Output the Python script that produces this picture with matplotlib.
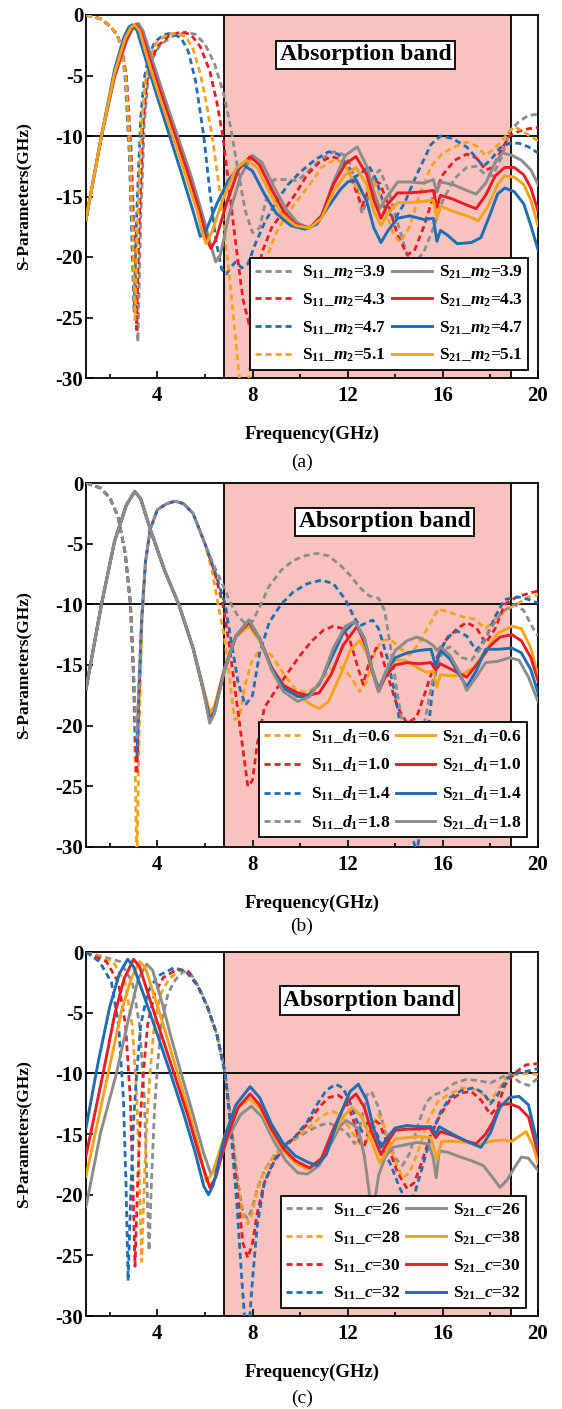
import matplotlib
matplotlib.use('Agg')
import matplotlib.pyplot as plt
from matplotlib.ticker import FixedLocator

plt.rcParams['font.family'] = ['Liberation Serif', 'DejaVu Serif']
plt.rcParams['font.weight'] = 'bold'
plt.rcParams['axes.unicode_minus'] = False
plt.rcParams['mathtext.fontset'] = 'custom'
plt.rcParams['mathtext.rm'] = 'Liberation Serif:bold'
plt.rcParams['mathtext.it'] = 'Liberation Serif:italic:bold'
plt.rcParams['mathtext.bf'] = 'Liberation Serif:bold'

# ---------------- shared settings ----------------
band_start, band_end = 6.82, 18.86
x_major = [4, 8, 12, 16, 20]
x_minor = [2, 6, 10, 14, 18]
y_major = [0, -5, -10, -15, -20, -25, -30]

# ================= panel (a): m2 =================
a_values = ['3.9', '4.3', '4.7', '5.1']

a_s11_39_f = [1.0, 1.6, 2.0, 2.3, 2.5, 2.7, 2.9, 3.05, 3.18, 3.3, 3.45, 3.6, 3.8, 4.1, 4.6, 5.2, 5.6, 6.0, 6.4, 6.8, 7.1, 7.4, 7.7, 8.0, 8.3, 8.6, 8.9, 9.4, 9.9, 10.4, 10.9, 11.4, 11.8, 12.1, 12.4, 12.6, 12.85, 13.1, 13.35, 13.7, 14.1, 14.5, 14.8, 15.2, 15.6, 16.0, 16.5, 17.0, 17.4, 17.8, 18.1, 18.5, 18.8, 19.2, 19.6, 20.0]
a_s11_39_db = [0.0, -0.3, -0.9, -1.6, -2.6, -5.0, -11.0, -19.0, -27.0, -17.0, -9.0, -5.5, -3.6, -2.5, -1.8, -1.4, -1.6, -2.4, -4.0, -6.6, -9.5, -13.0, -16.2, -18.0, -17.6, -15.0, -13.6, -13.6, -13.7, -12.8, -11.9, -11.3, -11.5, -12.3, -14.4, -16.4, -15.2, -13.3, -12.8, -14.4, -17.2, -19.8, -20.5, -19.6, -17.6, -15.3, -13.5, -12.6, -12.5, -13.2, -13.3, -11.6, -9.6, -8.8, -8.3, -8.2]

a_s11_43_f = [1.0, 1.6, 2.0, 2.3, 2.5, 2.7, 2.88, 3.0, 3.12, 3.24, 3.4, 3.55, 3.75, 4.0, 4.5, 5.0, 5.4, 5.8, 6.2, 6.5, 6.75, 7.0, 7.3, 7.6, 7.85, 8.1, 8.4, 8.8, 9.3, 9.8, 10.3, 10.8, 11.3, 11.7, 12.0, 12.3, 12.6, 12.85, 13.1, 13.35, 13.7, 14.1, 14.5, 14.8, 15.2, 15.6, 16.0, 16.5, 17.0, 17.4, 17.8, 18.1, 18.5, 18.8, 19.2, 19.6, 20.0]
a_s11_43_db = [0.0, -0.3, -0.9, -1.6, -2.7, -5.2, -11.5, -18.5, -26.0, -17.0, -9.0, -5.6, -3.7, -2.6, -1.7, -1.4, -1.6, -2.6, -4.6, -7.2, -10.0, -14.0, -19.0, -23.5, -25.5, -23.0, -19.6, -17.6, -16.2, -14.8, -13.2, -12.2, -11.7, -11.9, -12.7, -14.3, -15.8, -14.6, -13.7, -13.9, -15.6, -18.2, -19.8, -19.5, -17.5, -15.0, -13.2, -12.0, -11.5, -11.8, -12.8, -12.6, -11.0, -10.0, -9.6, -9.4, -9.3]

a_s11_47_f = [1.0, 1.6, 2.0, 2.3, 2.5, 2.65, 2.82, 2.92, 3.02, 3.14, 3.3, 3.45, 3.65, 3.9, 4.3, 4.6, 5.0, 5.3, 5.6, 5.95, 6.2, 6.45, 6.7, 6.9, 7.1, 7.3, 7.55, 7.8, 8.1, 8.5, 9.0, 9.5, 10.0, 10.6, 11.2, 11.6, 12.0, 12.3, 12.6, 12.9, 13.2, 13.6, 14.0, 14.4, 14.9, 15.5, 15.9, 16.4, 17.0, 17.4, 17.7, 18.0, 18.4, 18.8, 19.2, 19.6, 20.0]
a_s11_47_db = [0.0, -0.3, -0.9, -1.6, -2.7, -5.3, -11.5, -18.0, -24.5, -16.0, -8.5, -5.2, -3.3, -2.2, -1.6, -1.5, -1.9, -3.0, -5.4, -10.0, -14.5, -18.5, -21.0, -21.4, -20.8, -20.4, -20.9, -20.6, -19.0, -17.2, -15.4, -14.0, -13.0, -12.0, -11.3, -11.5, -12.4, -13.4, -13.0, -12.5, -13.6, -16.2, -16.8, -15.5, -13.2, -10.7, -10.0, -10.2, -10.9, -11.8, -12.5, -12.0, -11.0, -10.6, -10.6, -10.9, -11.4]

a_s11_51_f = [1.0, 1.6, 2.0, 2.3, 2.5, 2.68, 2.85, 2.96, 3.06, 3.18, 3.34, 3.5, 3.7, 3.95, 4.4, 4.8, 5.2, 5.5, 5.8, 6.05, 6.3, 6.55, 6.8, 7.05, 7.3, 7.5, 7.65, 7.8, 8.0, 8.3, 8.6, 9.0, 9.4, 9.9, 10.4, 10.9, 11.5, 11.9, 12.2, 12.5, 12.8, 13.1, 13.5, 13.9, 14.2, 14.6, 15.0, 15.5, 16.0, 16.5, 17.0, 17.4, 17.8, 18.2, 18.6, 19.0, 19.5, 20.0]
a_s11_51_db = [0.0, -0.3, -0.9, -1.6, -2.7, -5.3, -11.5, -18.0, -25.2, -16.5, -8.8, -5.4, -3.4, -2.3, -1.6, -1.5, -1.8, -2.8, -4.8, -7.2, -10.0, -13.5, -17.5, -22.0, -27.0, -31.0, -32.0, -31.0, -27.0, -23.0, -20.0, -18.0, -16.6, -15.3, -14.0, -12.6, -11.9, -12.4, -13.6, -14.8, -14.4, -13.8, -15.6, -18.0, -18.8, -17.5, -15.0, -12.5, -11.4, -10.9, -10.5, -10.8, -11.6, -11.0, -10.1, -9.2, -9.8, -10.4]

a_s21_39_f = [1.0, 1.65, 2.2, 2.7, 3.0, 3.2, 3.4, 3.8, 4.3, 4.85, 5.4, 5.9, 6.2, 6.45, 6.65, 7.0, 7.5, 8.0, 8.4, 8.9, 9.4, 9.9, 10.4, 10.9, 11.4, 11.9, 12.4, 12.8, 13.1, 13.35, 13.7, 14.1, 14.6, 15.2, 15.6, 15.75, 15.9, 16.4, 17.0, 17.4, 17.8, 18.2, 18.5, 18.9, 19.3, 19.7, 20.0]
a_s21_39_db = [-16.9, -10.0, -5.2, -2.2, -1.0, -0.7, -1.3, -3.8, -6.8, -10.0, -13.2, -16.5, -18.7, -20.4, -19.8, -16.6, -13.3, -11.6, -12.2, -14.2, -16.0, -17.2, -17.6, -16.6, -13.8, -11.6, -10.9, -12.5, -14.6, -16.0, -14.9, -13.8, -13.8, -13.9, -13.6, -14.6, -13.8, -14.0, -14.5, -14.8, -13.9, -12.2, -11.4, -11.6, -12.0, -12.8, -14.0]

a_s21_43_f = [1.0, 1.65, 2.2, 2.7, 2.95, 3.1, 3.3, 3.7, 4.2, 4.75, 5.3, 5.8, 6.1, 6.25, 6.45, 6.9, 7.4, 7.9, 8.3, 8.8, 9.3, 9.8, 10.4, 10.9, 11.4, 11.9, 12.35, 12.8, 13.1, 13.4, 13.7, 14.1, 14.6, 15.2, 15.6, 15.75, 15.9, 16.4, 17.0, 17.4, 17.8, 18.2, 18.6, 19.0, 19.4, 19.7, 20.0]
a_s21_43_db = [-16.9, -10.0, -5.0, -2.0, -1.0, -0.75, -1.3, -3.8, -6.8, -10.0, -13.2, -16.4, -18.6, -19.3, -18.6, -15.6, -12.8, -11.7, -12.4, -14.4, -16.2, -17.3, -17.6, -16.6, -14.0, -12.3, -11.7, -13.2, -15.3, -16.8, -15.6, -14.7, -14.7, -14.6, -14.5, -15.9, -14.9, -15.2, -15.7, -16.0, -14.9, -13.3, -12.6, -12.6, -13.2, -14.3, -16.2]

a_s21_47_f = [1.0, 1.65, 2.2, 2.6, 2.8, 2.95, 3.15, 3.5, 4.0, 4.5, 5.0, 5.5, 5.8, 6.05, 6.5, 7.0, 7.55, 8.0, 8.5, 9.0, 9.6, 10.2, 10.7, 11.2, 11.7, 12.0, 12.35, 12.8, 13.1, 13.4, 13.7, 14.1, 14.6, 15.2, 15.6, 15.75, 15.9, 16.2, 16.6, 17.2, 17.6, 18.0, 18.3, 18.6, 19.0, 19.4, 19.7, 20.0]
a_s21_47_db = [-16.9, -10.0, -4.5, -1.8, -1.0, -0.8, -1.3, -3.6, -6.8, -9.9, -13.0, -16.2, -18.3, -17.8, -15.6, -13.6, -12.3, -12.9, -14.8, -16.4, -17.4, -17.7, -17.3, -15.8, -14.4, -13.8, -13.6, -15.4, -17.6, -18.8, -17.8, -16.8, -16.6, -16.9, -16.8, -18.7, -17.8, -18.2, -18.9, -18.8, -18.4, -16.4, -14.8, -14.3, -14.6, -15.6, -17.4, -19.4]

a_s21_51_f = [1.0, 1.65, 2.2, 2.65, 2.9, 3.05, 3.25, 3.6, 4.1, 4.65, 5.2, 5.7, 5.9, 6.05, 6.3, 6.8, 7.3, 7.75, 8.2, 8.7, 9.2, 9.8, 10.4, 10.9, 11.4, 11.9, 12.35, 12.8, 13.1, 13.4, 13.7, 14.1, 14.6, 15.2, 15.6, 15.75, 15.9, 16.4, 17.0, 17.5, 17.9, 18.3, 18.6, 19.0, 19.4, 19.7, 20.0]
a_s21_51_db = [-16.9, -10.0, -4.8, -1.9, -1.0, -0.8, -1.3, -3.7, -6.8, -10.0, -13.3, -16.4, -18.1, -18.9, -17.9, -15.0, -12.7, -12.0, -12.6, -14.6, -16.4, -17.4, -17.6, -16.8, -14.6, -13.2, -12.6, -14.0, -16.2, -17.4, -16.4, -15.5, -15.5, -15.4, -15.3, -16.8, -15.8, -16.2, -16.6, -17.0, -15.8, -14.0, -13.3, -13.4, -14.0, -15.3, -17.4]

# ================= panel (b): d1 =================
b_values = ['0.6', '1.0', '1.4', '1.8']

b_s11_06_f = [1.0, 1.6, 2.0, 2.35, 2.65, 2.87, 3.0, 3.08, 3.14, 3.22, 3.34, 3.5, 3.7, 4.0, 4.4, 4.75, 5.1, 5.5, 6.0, 6.3, 6.55, 6.8, 7.0, 7.25, 7.45, 7.7, 8.0, 8.4, 8.8, 9.3, 9.8, 10.3, 10.8, 11.3, 11.8, 12.2, 12.5, 12.8, 13.1, 13.4, 13.8, 14.2, 14.6, 15.0, 15.4, 15.8, 16.2, 16.8, 17.3, 17.8, 18.2, 18.7, 19.1, 19.6, 20.0]
b_s11_06_db = [0.0, -0.4, -1.2, -2.8, -5.8, -10.0, -16.0, -25.0, -32.0, -22.0, -12.0, -6.5, -3.8, -2.2, -1.7, -1.5, -1.7, -2.5, -5.0, -7.2, -10.0, -12.5, -15.5, -19.5, -19.3, -16.5, -14.5, -13.6, -14.2, -15.7, -17.0, -17.3, -16.5, -15.3, -15.2, -16.2, -17.2, -16.4, -14.2, -13.0, -12.9, -13.6, -14.2, -13.2, -11.8, -10.4, -10.6, -11.0, -11.2, -12.0, -11.2, -10.4, -10.0, -9.4, -9.2]

b_s11_10_f = [1.0, 1.6, 2.0, 2.35, 2.65, 2.87, 3.0, 3.08, 3.14, 3.22, 3.34, 3.5, 3.7, 4.0, 4.4, 4.75, 5.1, 5.5, 6.0, 6.4, 6.75, 7.0, 7.3, 7.6, 7.8, 8.0, 8.2, 8.5, 9.0, 9.5, 10.0, 10.5, 11.0, 11.4, 11.8, 12.1, 12.4, 12.65, 12.9, 13.2, 13.4, 13.7, 14.1, 14.5, 14.9, 15.3, 15.7, 16.1, 16.6, 17.0, 17.4, 17.8, 18.2, 18.6, 19.1, 19.6, 20.0]
b_s11_10_db = [0.0, -0.4, -1.2, -2.8, -5.8, -10.0, -16.0, -21.5, -24.0, -18.0, -11.5, -6.5, -3.8, -2.2, -1.7, -1.5, -1.7, -2.5, -5.0, -7.3, -10.0, -13.0, -17.5, -22.0, -25.0, -24.5, -21.5, -18.5, -17.0, -15.6, -14.2, -13.0, -12.1, -11.8, -12.0, -13.0, -15.0, -16.6, -14.8, -13.6, -14.0, -16.0, -18.5, -19.8, -19.3, -17.0, -14.6, -13.0, -12.0, -11.5, -11.9, -13.2, -12.0, -10.0, -9.4, -9.1, -8.9]

b_s11_14_f = [1.0, 1.6, 2.0, 2.35, 2.65, 2.87, 3.0, 3.08, 3.14, 3.22, 3.34, 3.5, 3.7, 4.0, 4.4, 4.75, 5.1, 5.5, 6.0, 6.4, 6.85, 7.1, 7.4, 7.7, 8.0, 8.3, 8.7, 9.2, 9.7, 10.3, 10.9, 11.4, 11.9, 12.2, 12.5, 12.8, 13.05, 13.3, 13.65, 14.0, 14.3, 14.7, 14.9, 15.1, 15.4, 15.6, 15.9, 16.2, 16.6, 17.0, 17.4, 17.8, 18.2, 18.6, 19.2, 19.6, 20.0]
b_s11_14_db = [0.0, -0.4, -1.2, -2.8, -5.8, -10.0, -16.0, -20.5, -22.5, -17.0, -11.0, -6.5, -3.8, -2.2, -1.7, -1.5, -1.7, -2.5, -5.0, -7.2, -10.0, -13.0, -16.5, -18.3, -17.5, -14.0, -11.5, -10.0, -9.0, -8.3, -8.0, -8.3, -9.6, -10.8, -11.8, -11.5, -11.3, -12.0, -14.3, -17.5, -21.0, -29.0, -30.5, -28.0, -20.0, -16.5, -13.8, -12.7, -12.2, -12.6, -13.8, -12.8, -11.0, -9.6, -9.4, -9.6, -9.9]

b_s11_18_f = [1.0, 1.6, 2.0, 2.35, 2.65, 2.87, 3.0, 3.08, 3.14, 3.22, 3.34, 3.5, 3.7, 4.0, 4.4, 4.75, 5.1, 5.5, 6.0, 6.4, 6.8, 7.1, 7.4, 7.7, 8.0, 8.3, 8.7, 9.2, 9.7, 10.2, 10.7, 11.2, 11.7, 12.1, 12.5, 12.9, 13.3, 13.55, 13.8, 14.1, 14.4, 14.8, 15.2, 15.6, 16.0, 16.3, 16.8, 17.2, 17.6, 18.0, 18.5, 19.0, 19.4, 19.8, 20.0]
b_s11_18_db = [0.0, -0.4, -1.2, -2.8, -5.8, -10.0, -15.5, -19.5, -21.0, -16.5, -11.0, -6.5, -3.8, -2.2, -1.7, -1.5, -1.7, -2.5, -5.0, -6.9, -8.6, -10.0, -11.0, -11.6, -11.4, -10.2, -8.5, -7.2, -6.4, -6.0, -5.8, -6.0, -6.8, -7.6, -8.6, -9.3, -9.5, -10.5, -13.5, -17.5, -21.0, -23.0, -20.0, -16.0, -13.8, -13.5, -14.4, -14.6, -13.6, -12.0, -10.6, -10.0, -10.5, -12.0, -12.6]

b_s21_06_f = [1.0, 1.65, 2.2, 2.7, 3.05, 3.3, 3.7, 4.3, 4.9, 5.5, 5.9, 6.2, 6.4, 6.8, 7.3, 7.85, 8.3, 8.8, 9.3, 9.9, 10.4, 10.8, 11.2, 11.7, 12.1, 12.5, 12.8, 13.0, 13.3, 13.6, 14.0, 14.4, 14.9, 15.3, 15.6, 15.75, 15.9, 16.4, 16.8, 17.3, 17.8, 18.3, 18.9, 19.3, 19.7, 20.0]
b_s21_06_db = [-17.0, -10.0, -4.8, -1.8, -0.7, -1.3, -3.8, -7.2, -10.0, -13.6, -16.6, -18.9, -18.4, -15.4, -12.7, -11.8, -13.0, -15.2, -16.6, -17.4, -18.2, -18.6, -18.0, -15.8, -13.8, -13.0, -14.0, -15.4, -17.0, -15.8, -14.6, -14.6, -15.2, -15.6, -15.5, -16.8, -15.8, -15.9, -15.8, -15.2, -13.8, -12.4, -11.8, -12.0, -13.6, -15.9]

b_s21_10_f = [1.0, 1.65, 2.2, 2.7, 3.05, 3.3, 3.7, 4.3, 4.9, 5.5, 5.9, 6.2, 6.4, 6.8, 7.3, 7.85, 8.3, 8.8, 9.3, 9.9, 10.3, 10.8, 11.3, 11.8, 12.4, 12.8, 13.0, 13.3, 13.6, 14.0, 14.5, 15.0, 15.5, 15.7, 15.9, 16.3, 17.0, 17.5, 18.0, 18.4, 18.9, 19.3, 19.7, 20.0]
b_s21_10_db = [-17.0, -10.0, -4.8, -1.8, -0.7, -1.3, -3.8, -7.2, -10.0, -13.6, -16.8, -19.4, -18.8, -15.5, -12.6, -11.5, -12.8, -15.2, -16.7, -17.3, -17.5, -17.3, -15.8, -13.4, -11.8, -13.6, -15.3, -17.2, -15.9, -15.0, -14.8, -14.9, -14.8, -15.4, -14.9, -15.3, -16.0, -14.8, -13.4, -12.7, -12.5, -13.0, -14.4, -16.3]

b_s21_14_f = [1.0, 1.65, 2.2, 2.7, 3.05, 3.3, 3.7, 4.3, 4.9, 5.5, 5.9, 6.2, 6.4, 6.8, 7.3, 7.85, 8.3, 8.8, 9.3, 9.9, 10.3, 10.8, 11.3, 11.8, 12.3, 12.7, 13.0, 13.3, 13.6, 14.0, 14.5, 15.0, 15.5, 15.7, 15.9, 16.3, 17.0, 17.4, 17.8, 18.4, 18.9, 19.3, 19.7, 20.0]
b_s21_14_db = [-17.0, -10.0, -4.8, -1.8, -0.7, -1.3, -3.8, -7.2, -10.0, -13.6, -16.8, -19.5, -18.9, -15.6, -12.6, -11.3, -12.8, -15.3, -16.9, -17.6, -17.6, -16.6, -14.5, -12.4, -11.4, -12.8, -15.2, -17.0, -15.6, -14.4, -14.0, -13.8, -13.7, -15.1, -13.8, -14.5, -16.8, -15.5, -13.7, -13.7, -13.6, -14.0, -15.4, -17.3]

b_s21_18_f = [1.0, 1.65, 2.2, 2.7, 3.05, 3.3, 3.7, 4.3, 4.9, 5.5, 5.9, 6.2, 6.4, 6.8, 7.3, 7.85, 8.3, 8.8, 9.3, 9.9, 10.4, 10.9, 11.4, 11.9, 12.3, 12.7, 13.0, 13.3, 13.6, 14.0, 14.5, 14.9, 15.3, 15.6, 15.75, 15.9, 16.3, 16.7, 17.0, 17.4, 17.8, 18.3, 18.8, 19.2, 19.6, 20.0]
b_s21_18_db = [-17.0, -10.0, -4.8, -1.8, -0.7, -1.3, -3.8, -7.2, -10.0, -13.6, -16.8, -19.8, -19.0, -15.6, -12.6, -11.3, -12.8, -15.4, -17.2, -18.0, -17.6, -16.2, -13.6, -11.8, -11.4, -12.8, -15.2, -17.2, -15.6, -13.8, -13.0, -12.7, -13.0, -13.4, -13.8, -13.5, -14.2, -15.6, -17.1, -16.0, -14.8, -14.7, -14.4, -14.6, -16.0, -18.0]

# ================= panel (c): c =================
c_values_s11 = ['26', '28', '30', '32']
c_values_s21 = ['26', '38', '30', '32']

c_s11_26_f = [1.0, 2.45, 2.95, 3.25, 3.45, 3.56, 3.65, 3.76, 3.88, 4.0, 4.17, 4.45, 4.75, 5.1, 5.4, 5.75, 6.1, 6.5, 6.85, 7.1, 7.35, 7.6, 7.8, 8.0, 8.2, 8.5, 8.9, 9.3, 9.8, 10.3, 10.8, 11.2, 11.6, 12.0, 12.3, 12.5, 12.8, 13.0, 13.3, 13.6, 14.0, 14.3, 14.6, 15.0, 15.3, 15.6, 16.0, 16.5, 17.0, 17.5, 18.0, 18.4, 18.8, 19.2, 19.6, 20.0]
c_s11_26_db = [0.0, -0.8, -2.5, -6.0, -12.0, -19.0, -24.6, -18.5, -13.0, -9.5, -5.8, -3.4, -2.3, -1.6, -1.8, -2.9, -4.5, -6.8, -10.0, -14.0, -18.5, -21.5, -22.0, -21.0, -19.5, -18.0, -16.8, -16.0, -15.4, -14.8, -14.3, -14.1, -14.4, -15.0, -15.8, -14.5, -11.8, -11.5, -12.8, -15.0, -17.0, -17.6, -16.6, -14.0, -12.4, -11.8, -11.5, -10.8, -10.5, -10.6, -10.8, -10.4, -10.0, -10.7, -11.0, -10.4]

c_s11_28_f = [1.0, 2.14, 2.64, 2.94, 3.14, 3.25, 3.34, 3.45, 3.57, 3.7, 3.87, 4.15, 4.5, 4.95, 5.35, 5.7, 6.1, 6.5, 6.85, 7.1, 7.35, 7.6, 7.8, 8.0, 8.2, 8.5, 8.9, 9.3, 9.8, 10.3, 10.8, 11.3, 11.7, 12.1, 12.5, 12.8, 13.1, 13.3, 13.6, 13.9, 14.3, 14.6, 15.0, 15.4, 15.8, 16.2, 16.8, 17.2, 17.6, 18.0, 18.3, 18.7, 19.1, 19.6, 20.0]
c_s11_28_db = [0.0, -0.8, -2.5, -6.0, -12.0, -19.0, -25.5, -19.0, -13.5, -9.8, -6.0, -3.4, -2.2, -1.5, -1.7, -2.8, -4.5, -6.8, -10.0, -14.5, -19.0, -21.8, -22.4, -21.5, -19.5, -18.0, -16.8, -16.0, -15.3, -14.6, -13.7, -13.1, -13.4, -14.6, -15.8, -15.6, -14.0, -13.4, -14.6, -16.8, -18.6, -18.2, -16.2, -13.8, -12.3, -11.8, -11.2, -11.2, -11.6, -12.3, -11.4, -10.3, -10.1, -10.0, -10.1]

c_s11_30_f = [1.0, 1.86, 2.36, 2.66, 2.86, 2.97, 3.06, 3.17, 3.29, 3.42, 3.59, 3.89, 4.25, 4.85, 5.3, 5.7, 6.1, 6.5, 6.85, 7.1, 7.35, 7.6, 7.8, 8.0, 8.2, 8.5, 8.9, 9.3, 9.8, 10.3, 10.8, 11.2, 11.6, 11.9, 12.2, 12.5, 12.7, 12.9, 13.1, 13.35, 13.7, 14.1, 14.5, 14.8, 15.1, 15.5, 15.9, 16.3, 16.8, 17.2, 17.6, 18.0, 18.3, 18.6, 19.0, 19.5, 20.0]
c_s11_30_db = [0.0, -0.8, -2.5, -6.0, -12.0, -19.0, -25.9, -19.0, -13.5, -9.8, -6.0, -3.4, -2.1, -1.4, -1.6, -2.8, -4.5, -6.8, -10.0, -14.5, -19.5, -24.0, -25.2, -24.0, -21.5, -19.0, -17.3, -16.2, -15.2, -14.2, -12.8, -12.0, -11.8, -12.2, -13.6, -15.6, -16.0, -14.6, -13.8, -14.2, -16.0, -18.2, -19.5, -19.0, -17.4, -15.0, -13.4, -12.2, -11.6, -11.5, -12.2, -13.4, -12.8, -11.0, -10.0, -9.3, -9.2]

c_s11_32_f = [1.0, 1.57, 2.07, 2.37, 2.57, 2.68, 2.77, 2.88, 3.0, 3.13, 3.3, 3.6, 4.0, 4.7, 5.2, 5.7, 6.1, 6.5, 6.85, 7.1, 7.35, 7.55, 7.7, 7.85, 8.0, 8.2, 8.5, 8.9, 9.3, 9.8, 10.3, 10.7, 11.1, 11.5, 11.8, 12.1, 12.4, 12.6, 12.85, 13.1, 13.4, 13.8, 14.2, 14.5, 14.8, 15.1, 15.5, 15.9, 16.3, 16.8, 17.3, 17.7, 18.0, 18.3, 18.7, 19.1, 19.6, 20.0]
c_s11_32_db = [0.0, -0.8, -2.5, -6.0, -12.0, -19.0, -27.1, -20.0, -14.0, -10.0, -6.0, -3.3, -2.0, -1.3, -1.6, -2.8, -4.5, -6.8, -10.0, -15.0, -21.0, -27.0, -31.0, -31.0, -27.0, -22.5, -19.0, -17.2, -16.0, -15.2, -14.0, -12.6, -11.4, -10.9, -11.2, -12.4, -14.0, -14.8, -14.0, -14.4, -15.8, -17.5, -19.5, -20.6, -20.0, -18.0, -15.2, -13.2, -12.0, -11.4, -11.2, -11.6, -12.5, -11.8, -10.4, -10.0, -9.8, -9.6]

c_s21_26_f = [1.0, 1.6, 2.28, 2.8, 3.2, 3.55, 3.8, 4.2, 4.6, 5.0, 5.5, 5.95, 6.25, 6.5, 7.0, 7.5, 7.95, 8.4, 8.9, 9.4, 9.9, 10.3, 10.8, 11.3, 11.7, 11.95, 12.2, 12.45, 12.7, 12.95, 13.1, 13.3, 13.6, 13.9, 14.4, 14.9, 15.4, 15.6, 15.72, 15.85, 16.2, 16.6, 17.2, 17.7, 18.1, 18.4, 18.7, 19.0, 19.3, 19.6, 20.0]
c_s21_26_db = [-21.0, -15.0, -10.0, -5.4, -2.2, -1.0, -1.5, -4.2, -7.2, -10.0, -13.4, -16.6, -18.3, -17.8, -15.2, -13.4, -12.7, -13.6, -15.6, -17.2, -18.2, -18.3, -17.6, -15.8, -14.3, -13.9, -14.2, -14.6, -16.8, -20.5, -21.0, -18.4, -16.8, -16.1, -15.9, -15.7, -15.8, -17.0, -18.6, -16.4, -16.5, -16.8, -17.2, -17.6, -18.6, -19.4, -18.8, -17.8, -16.9, -17.0, -18.0]

c_s21_28_f = [1.0, 1.93, 2.5, 2.9, 3.25, 3.5, 3.9, 4.4, 4.85, 5.4, 5.8, 6.05, 6.3, 6.8, 7.3, 7.85, 8.3, 8.8, 9.3, 9.8, 10.3, 10.8, 11.3, 11.8, 12.2, 12.6, 13.0, 13.35, 13.7, 14.0, 14.5, 15.0, 15.5, 15.75, 15.95, 16.5, 17.0, 17.5, 18.0, 18.5, 18.9, 19.2, 19.5, 19.8, 20.0]
c_s21_28_db = [-18.5, -10.0, -4.8, -2.2, -0.8, -1.3, -3.8, -7.0, -10.0, -13.6, -16.6, -18.9, -18.3, -15.3, -13.0, -12.1, -12.8, -14.8, -16.4, -17.4, -17.9, -17.4, -15.4, -13.6, -12.8, -13.6, -15.6, -17.4, -16.2, -15.4, -15.3, -15.2, -15.3, -17.1, -15.6, -15.6, -15.7, -15.9, -15.6, -15.5, -15.6, -15.2, -14.8, -16.0, -17.4]

c_s21_30_f = [1.0, 1.72, 2.2, 2.6, 3.0, 3.25, 3.7, 4.2, 4.7, 5.3, 5.8, 6.2, 6.45, 6.9, 7.4, 7.9, 8.3, 8.8, 9.3, 9.8, 10.4, 10.9, 11.4, 11.9, 12.35, 12.7, 13.0, 13.4, 13.7, 14.0, 14.5, 15.0, 15.45, 15.7, 15.9, 16.4, 17.0, 17.4, 17.8, 18.1, 18.4, 18.8, 19.2, 19.6, 20.0]
c_s21_30_db = [-16.8, -10.0, -5.2, -2.2, -0.6, -1.2, -4.0, -7.0, -10.0, -13.6, -17.0, -19.4, -18.6, -15.4, -12.8, -11.7, -12.6, -14.6, -16.2, -17.2, -17.8, -17.0, -14.6, -12.5, -11.7, -12.8, -14.8, -16.7, -15.6, -14.7, -14.6, -14.6, -14.5, -15.3, -14.8, -15.1, -15.6, -15.8, -15.0, -14.0, -12.6, -12.5, -12.8, -13.6, -16.6]

c_s21_32_f = [1.0, 1.5, 2.0, 2.4, 2.75, 3.0, 3.4, 4.0, 4.55, 5.1, 5.6, 5.95, 6.15, 6.35, 6.8, 7.3, 7.9, 8.3, 8.8, 9.3, 9.8, 10.3, 10.7, 11.1, 11.6, 12.1, 12.45, 12.8, 13.1, 13.4, 13.7, 14.0, 14.5, 15.0, 15.5, 15.7, 15.85, 16.3, 17.0, 17.6, 18.0, 18.4, 18.8, 19.2, 19.6, 20.0]
c_s21_32_db = [-14.5, -9.2, -4.5, -1.8, -0.6, -1.2, -3.4, -6.8, -10.0, -13.3, -16.6, -19.3, -20.0, -19.2, -15.4, -12.6, -11.1, -12.0, -14.2, -15.8, -16.8, -17.3, -17.6, -16.7, -13.8, -11.5, -10.9, -12.2, -14.6, -16.1, -15.2, -14.5, -14.3, -14.4, -14.4, -15.0, -14.4, -14.9, -15.6, -16.1, -14.9, -12.8, -12.0, -11.9, -12.6, -16.0]

# ---------------- colours ----------------
GRAY = '#8c8c8c'
RED = '#ec1c24'
BLUE = '#1f6db3'
ORANGE = '#f7a21b'
PINK = '#f8c3bf'

W_PX, H_PX, DPI = 562, 1409, 100
fig = plt.figure(figsize=(W_PX / DPI, H_PX / DPI), dpi=DPI)
AX_LEFT, AX_RIGHT = 86, 538


def make_axes(top_px, bottom_px):
    return fig.add_axes([AX_LEFT / W_PX, 1 - bottom_px / H_PX,
                         (AX_RIGHT - AX_LEFT) / W_PX, (bottom_px - top_px) / H_PX])


def panel(ax, s11, s21, labels11, labels21, box_xy, leg_anchor, caption, cap_y):
    ax.axvspan(band_start, band_end, color=PINK, zorder=0, lw=0)
    ax.axvline(band_start, color='black', lw=1.3, zorder=1)
    ax.axvline(band_end, color='black', lw=1.3, zorder=1)
    ax.axhline(-10, color='black', lw=1.3, zorder=1)
    h11, h21 = [], []
    for (f, v, col) in s11:
        ln, = ax.plot(f, v, color=col, lw=2.0, ls=(0, (2.2, 1.4)), zorder=3)
        h11.append(ln)
    for (f, v, col) in s21:
        ln, = ax.plot(f, v, color=col, lw=2.1, ls='-', zorder=4)
        h21.append(ln)
    ax.set_xlim(1, 20)
    ax.set_ylim(-30, 0)
    ax.xaxis.set_major_locator(FixedLocator(x_major))
    ax.xaxis.set_minor_locator(FixedLocator(x_minor))
    ax.yaxis.set_major_locator(FixedLocator(y_major))
    ax.tick_params(axis='both', which='both', direction='in', top=False, right=False)
    ax.tick_params(axis='both', which='major', length=5, width=1.2, labelsize=15)
    ax.tick_params(axis='x', which='minor', length=3, width=1.2)
    ax.tick_params(axis='x', which='major', pad=6)
    ax.tick_params(axis='y', which='major', pad=2)
    for lab in ax.get_xticklabels() + ax.get_yticklabels():
        lab.set_fontweight('bold')
    for sp in ax.spines.values():
        sp.set_linewidth(1.3)
    ax.set_xlabel('Frequency(GHz)', fontsize=13.5, fontweight='bold', labelpad=14)
    ax.set_ylabel('S-Parameters(GHz)', fontsize=12.5, fontweight='bold')
    ax.yaxis.set_label_coords(-0.118, 0.5)
    ax.text(box_xy[0], box_xy[1], 'Absorption band', fontsize=17, fontweight='bold',
            ha='center', va='center', zorder=6,
            bbox=dict(boxstyle='square,pad=0.15', fc='white', ec='black', lw=1.3))
    leg = ax.legend(h11 + h21, labels11 + labels21, ncol=2, loc='lower right',
                    bbox_to_anchor=leg_anchor, frameon=True, fancybox=False,
                    edgecolor='black', framealpha=1.0, fontsize=12.5,
                    handlelength=2.3, handletextpad=0.4, columnspacing=0.3,
                    labelspacing=0.6, borderpad=0.3, borderaxespad=0.0)
    leg.get_frame().set_linewidth(1.3)
    leg.set_zorder(10)
    fig.text(0.537, cap_y, caption, fontsize=14, fontweight='normal', ha='center', va='center')


# ---- panel (a)
ax_a = make_axes(15, 378)
panel(ax_a,
      [(a_s11_39_f, a_s11_39_db, GRAY), (a_s11_43_f, a_s11_43_db, RED),
       (a_s11_47_f, a_s11_47_db, BLUE), (a_s11_51_f, a_s11_51_db, ORANGE)],
      [(a_s21_39_f, a_s21_39_db, GRAY), (a_s21_43_f, a_s21_43_db, RED),
       (a_s21_47_f, a_s21_47_db, BLUE), (a_s21_51_f, a_s21_51_db, ORANGE)],
      [r'S$_{11}$_$m_2$=' + v for v in a_values],
      [r'S$_{21}$_$m_2$=' + v for v in a_values],
      (12.75, -3.3), (0.978, 0.023), '(a)', 1 - 462 / H_PX)

# ---- panel (b)
ax_b = make_axes(483, 847)
panel(ax_b,
      [(b_s11_06_f, b_s11_06_db, ORANGE), (b_s11_10_f, b_s11_10_db, RED),
       (b_s11_14_f, b_s11_14_db, BLUE), (b_s11_18_f, b_s11_18_db, GRAY)],
      [(b_s21_06_f, b_s21_06_db, ORANGE), (b_s21_10_f, b_s21_10_db, RED),
       (b_s21_14_f, b_s21_14_db, BLUE), (b_s21_18_f, b_s21_18_db, GRAY)],
      [r'S$_{11}$_$d_1$=' + v for v in b_values],
      [r'S$_{21}$_$d_1$=' + v for v in b_values],
      (13.55, -3.2), (0.976, 0.027), '(b)', 1 - 926 / H_PX)

# ---- panel (c)
ax_c = make_axes(952, 1316)
panel(ax_c,
      [(c_s11_26_f, c_s11_26_db, GRAY), (c_s11_28_f, c_s11_28_db, ORANGE),
       (c_s11_30_f, c_s11_30_db, RED), (c_s11_32_f, c_s11_32_db, BLUE)],
      [(c_s21_26_f, c_s21_26_db, GRAY), (c_s21_28_f, c_s21_28_db, ORANGE),
       (c_s21_30_f, c_s21_30_db, RED), (c_s21_32_f, c_s21_32_db, BLUE)],
      [r'S$_{11}$_$c$=' + v for v in c_values_s11],
      [r'S$_{21}$_$c$=' + v for v in c_values_s21],
      (12.9, -4.0), (0.973, 0.023), '(c)', 1 - 1398 / H_PX)

fig.savefig('out.png', dpi=DPI)
